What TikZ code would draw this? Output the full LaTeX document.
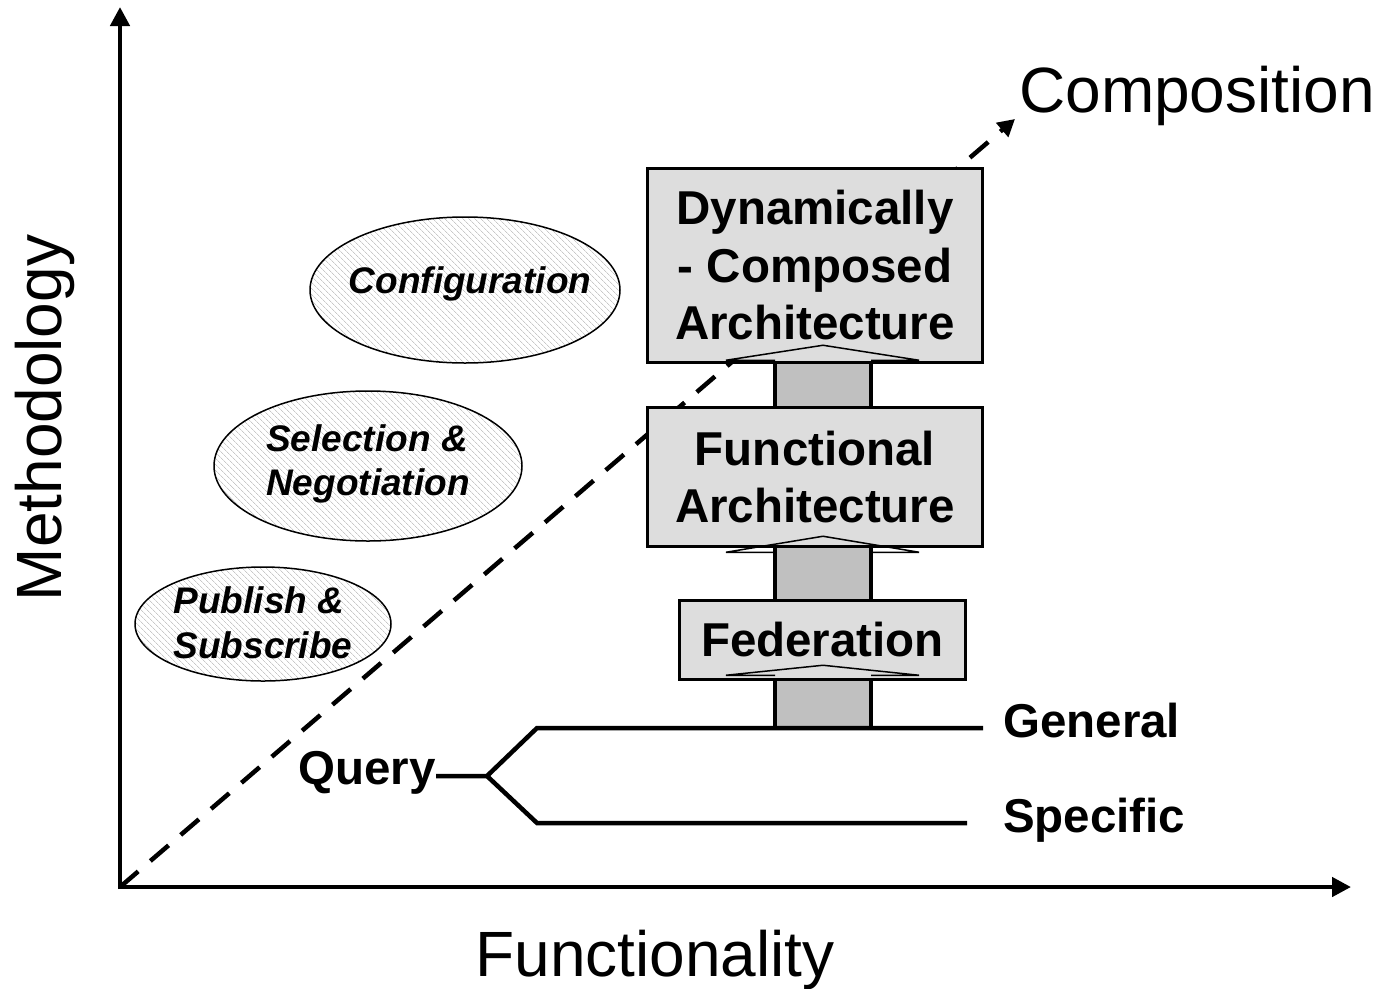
\documentclass[tikz,border=0pt]{standalone}
\usepackage{fontspec}
\setmainfont{Liberation Sans}
\usetikzlibrary{arrows.meta,patterns.meta,shapes.geometric,calc}
\definecolor{boxgray}{HTML}{DDDDDD}
\definecolor{shaftgray}{HTML}{C0C0C0}
\definecolor{hatchgray}{HTML}{C8C8C8}
\begin{document}
\begin{tikzpicture}[x=1pt,y=-1pt,
  axis/.style={line width=4.5pt,-{Triangle[length=19pt,width=19pt]}},
  dashline/.style={line width=4.5pt,dash pattern=on 24pt off 16pt,-{Triangle[length=17pt,width=18pt]}},
  box/.style={draw,line width=3.5pt,fill=boxgray,font=\fontsize{47.5}{57.5}\selectfont\bfseries,align=center,inner sep=0pt},
  oval/.style={ellipse,draw,line width=1.5pt,preaction={fill=white},pattern={Lines[angle=-45,distance=4pt,line width=0.8pt]},pattern color=hatchgray,inner sep=0pt},
  ovaltext/.style={inner sep=0pt,font=\fontsize{37}{44.5}\selectfont\bfseries\itshape,align=left},
  big/.style={font=\fontsize{64}{70}\selectfont,inner sep=0pt},
  lbl/.style={font=\fontsize{47.5}{57}\selectfont\bfseries,inner sep=0pt},
  tree/.style={line width=4.5pt},
  shaftside/.style={line width=3.5pt},
  headline/.style={line width=1.5pt,line join=miter}
]
\useasboundingbox (0,0) rectangle (1380,988);
% axes and diagonal
\coordinate (O) at (120,887);
\coordinate (Y) at (120,7);
\coordinate (X) at (1351,887);
\coordinate (C) at (1015,119);
\draw[dashline] (O) -- (C);
\draw[axis] ([yshift=-2pt]O) -- (Y);
\draw[axis] ([xshift=-2pt]O) -- (X);
% axis labels
\node[big,rotate=90,anchor=base] (meth) at (61,418) {Methodology};
\node[big,anchor=base] (funclbl) at (655,976) {Functionality};
\node[big,anchor=base west] (comp) at (1019,112) {Composition};
% ellipses
\node[oval,minimum width=310pt,minimum height=146pt] (conf) at (465,290) {};
\node[ovaltext] at ([xshift=5pt,yshift=6pt]conf.center) {Configuration};
\node[oval,minimum width=308pt,minimum height=150pt] (sel) at (368,466) {};
\node[ovaltext] at ([yshift=2pt]sel.center) {Selection \&\\Negotiation};
\node[oval,minimum width=256pt,minimum height=114pt] (pub) at (263,624) {};
\node[ovaltext] at ([yshift=1pt]pub.center) {Publish \&\\Subscribe};
% boxes and shafts
\coordinate (sx) at (823,0);
\coordinate (g0) at (537,728);
\coordinate (g1) at (983,728);
\coordinate (s0) at (537,823);
\coordinate (s1) at (967,823);
\coordinate (qj) at (487,776);
\node[box,minimum width=335pt,minimum height=194pt] (dyn) at (815,265.5) {Dynamically\\- Composed\\Architecture};
\node[box,minimum width=335pt,minimum height=139pt] (func) at (815,477) {Functional\\Architecture};
\node[box,minimum width=286pt,minimum height=79pt] (fed) at (822.5,640) {Federation};
\foreach \a/\b in {dyn.south/func.north,func.south/fed.north,fed.south/g1}{
  \fill[shaftgray] ($(sx |- \a)+(-48,0)$) rectangle ($(sx |- \b)+(48,0)$);
  \draw[shaftside] ($(sx |- \a)+(-48,0)$) -- ($(sx |- \b)+(-48,0)$);
  \draw[shaftside] ($(sx |- \a)+(48,0)$) -- ($(sx |- \b)+(48,0)$);
}
\foreach \n/\bb/\tt in {dyn/-4/-19,func/4/-12,fed/-6/-16}{
  \draw[headline] ($(sx |- \n.south)+(-48,\bb)$) -- ++(-49,0) -- ($(sx |- \n.south)+(0,\tt)$) -- ($(sx |- \n.south)+(96,\bb)$) -- ++(-48,0);
}
% query tree
\node[lbl,anchor=base east] (query) at (436,784) {Query};
\node[lbl,anchor=base west] (gen) at (1003,737) {General};
\node[lbl,anchor=base west] (spec) at (1003,832) {Specific};
\draw[tree] (query.east |- qj) -- (qj) -- (g0) -- (g1);
\draw[tree] (qj) -- (s0) -- (s1);
\end{tikzpicture}
\end{document}
